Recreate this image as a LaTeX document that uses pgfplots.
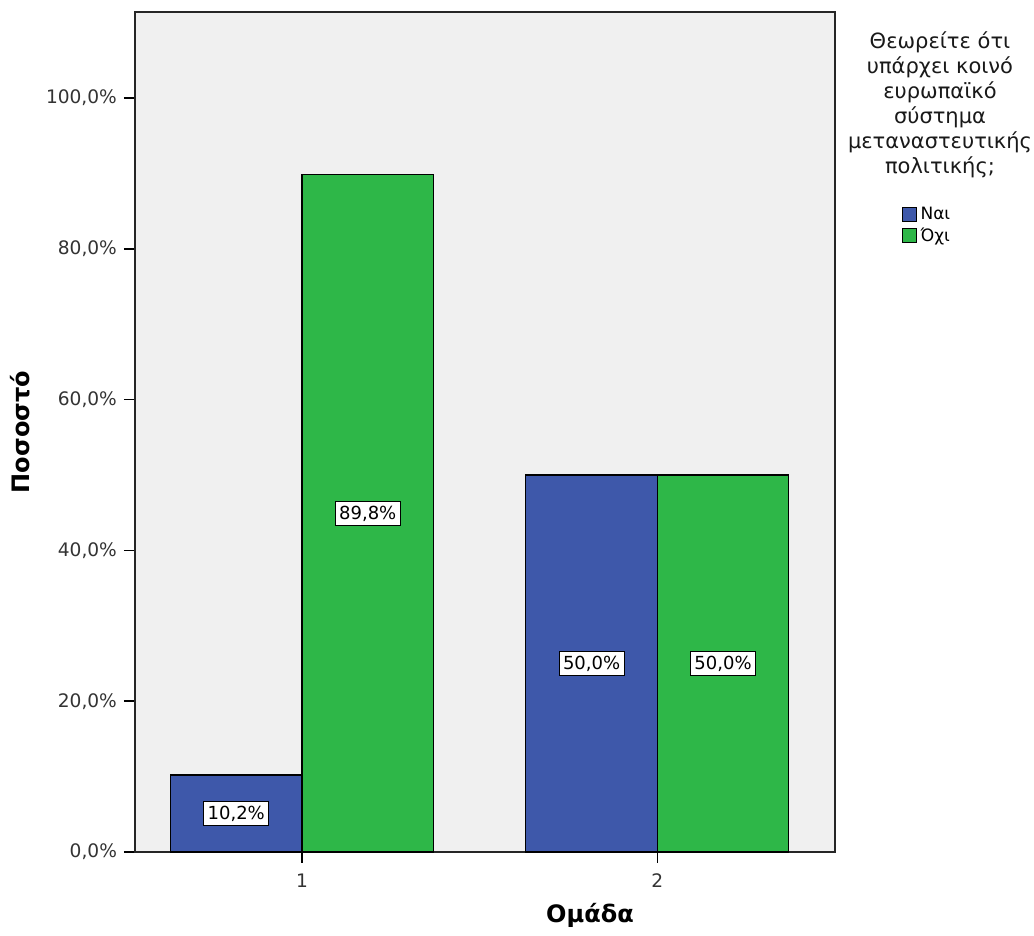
\documentclass[border=0pt]{standalone}
\usepackage{pgfplots}
\pgfplotsset{compat=1.18}
\usepackage{fontspec}
\setmainfont{DejaVu Sans}
\definecolor{bblue}{RGB}{62,88,170}
\definecolor{bgreen}{RGB}{46,183,72}
\definecolor{bgc}{RGB}{240,240,240}
\begin{document}
\begin{tikzpicture}
\useasboundingbox (-67.5pt,-42pt) rectangle (449.5pt,426pt);
\begin{axis}[
  at={(0pt,0pt)}, anchor=south west,
  scale only axis,
  width=350pt, height=420pt,
  ybar=0pt, bar width=0.37,
  xmin=0.53, xmax=2.5,
  ymin=0, ymax=111.4,
  xtick={1,2}, xticklabels={1,2},
  ytick={0,20,40,60,80,100},
  /pgf/number format/assume math mode=true,
  yticklabel={\pgfmathprintnumber[fixed,fixed zerofill,precision=1,use comma]{\tick}\%},
  tick align=outside,
  major tick length=5.5pt,
  xtick pos=bottom, ytick pos=left,
  tick style={black, line width=0.8pt},
  axis line style={black!85, line width=1pt},
  axis background/.style={fill=bgc},
  ticklabel style={font=\fontsize{9.3}{11}\selectfont, text=black!80},
  xticklabel style={yshift=-2pt},
  xlabel={Ομάδα}, ylabel={Ποσοστό},
  xlabel style={font=\bfseries\fontsize{12}{14}\selectfont, at={(axis description cs:0.65,-0.075)}, anchor=center},
  ylabel style={font=\bfseries\fontsize{12}{14}\selectfont, at={(axis description cs:-0.164,0.5)}, anchor=center},
  clip=false,
  visualization depends on={y \as \rawy},
  nodes near coords={\pgfmathprintnumber[fixed,fixed zerofill,precision=1,use comma]{\pgfplotspointmeta}\%},
  every node near coord/.append style={font=\fontsize{9}{10}\selectfont, fill=white, draw=black, line width=0.5pt, inner sep=2pt, anchor=center, shift={(axis direction cs:0,-\rawy/2)}},
  legend style={at={(rel axis cs:1.095,0.773)}, anchor=north west, draw=none, fill=none, font=\fontsize{8.5}{9}\selectfont, row sep=-1.5pt, inner sep=0pt, cells={anchor=west}},
  legend image code/.code={\draw[#1, draw=black, line width=0.5pt] (0cm,-0.12cm) rectangle (0.24cm,0.12cm);},
]
\addplot[fill=bblue, draw=black, line width=0.6pt] coordinates {(1,10.2) (2,50.0)};
\addplot[fill=bgreen, draw=black, line width=0.6pt] coordinates {(1,89.8) (2,50.0)};
\legend{Ναι,Όχι}
\node[anchor=north, align=center, font=\fontsize{10.5}{12.5}\selectfont, text=black!90] at (rel axis cs:1.15,0.985) {Θεωρείτε ότι\\υπάρχει κοινό\\ευρωπαϊκό\\σύστημα\\μεταναστευτικής\\πολιτικής;};
\end{axis}
\end{tikzpicture}
\end{document}
